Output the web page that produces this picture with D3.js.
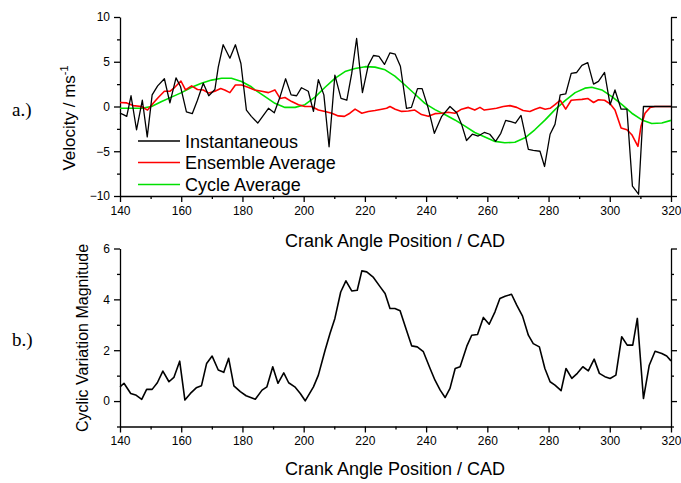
<!DOCTYPE html>
<html><head><meta charset="utf-8">
<script src="https://cdn.jsdelivr.net/npm/d3@7/dist/d3.min.js"></script>
<style>body{margin:0;background:#fff}svg{display:block}</style>
</head><body><svg id="c" width="681" height="483"></svg>
<script>
// ---------- DATA ----------
const instAngle = [140,141.1,142.2,143.6,145.4,147.3,148.9,150.5,152.3,154.5,156.3,158.3,159.8,161.7,163.6,165.3,167.2,169,171,172.1,173.7,175.9,177.7,179.5,181.3,182.9,185,188.5,190.4,192.3,194.1,195.9,197.7,199.3,201.5,203.2,204.8,206.6,208.3,210.2,212.2,214.1,215.7,217.3,219.2,221.1,222.8,224.6,226.4,228.2,229.9,231.6,233.6,235.2,237.2,238.7,240.7,242.7,245.1,247.8,250,251.6,253.2,255.1,257,259,260.8,262.7,264.4,266,267.7,269.2,271,273.4,275,277.2,278.7,280.5,282.1,283.8,285.6,287.4,289.2,290.9,292.8,294.7,296.3,298.3,300.1,301.7,303.7,305.6,307.4,309.4,311,320];
const instVel = [-0.75,-0.9,-1.1,1.2,-2.6,0.7,-3.4,1.3,2.3,3.1,0.4,3.2,2.2,-0.6,-0.8,0.7,2.6,1.2,1.9,4.4,6.9,5.4,6.9,4.8,-0.4,-1.1,-1.85,-0.2,-0.7,1.1,3.1,1.3,1.2,2.1,1.7,-0.55,3.0,1.3,-4.5,3.5,0.9,0.7,3.7,7.6,1.55,4.6,5.7,5.6,4.7,6.0,5.85,4.5,-0.2,-0.1,2.0,2.0,-0.2,-3.0,-1.1,0,-0.7,-2.0,-3.8,-3.1,-3.3,-2.9,-3.1,-3.9,-3.0,-1.55,-1.7,-1.85,-1.0,-4.8,-4.9,-5.0,-6.7,-3.1,-2.0,1.3,1.4,3.7,3.8,4.6,4.9,2.5,2.8,3.8,0.2,1.85,-0.3,-0.3,-8.9,-9.8,0,0];

const ensAngle = [140,142.2,144.3,147,149,150.9,152.5,154.5,156.3,157.9,159.9,161.4,163.4,165.3,167.2,169,171,172.9,174.2,175.9,177.7,179.7,181.8,184,186.3,188.5,190.6,192.3,193.9,196.1,198.3,200.4,202.6,204.8,207,209.2,211.3,213.3,215.1,216.8,219,221.1,223.3,225.5,227.1,228.2,229.9,232,234.2,236.3,238.5,240.7,242.9,245.1,247.2,249.4,251.6,253.8,255.9,257.6,259,260.8,263,265.2,267.4,269.6,271.7,273.9,275.6,277.2,278.9,280.5,282.1,283.8,285.6,287.4,289.2,290.9,292.8,294.7,296.3,298.3,300.1,301.7,303.7,305.6,307.2,309.2,310.2,311.5,313.2,314.8,320];
const ensVel = [0.45,0.4,0.1,0,-0.4,0.4,1.0,1.7,1.7,2.15,2.85,1.85,2.3,1.9,1.85,1.5,1.7,2.0,1.85,1.55,2.4,2.4,2.15,1.85,1.7,1.55,1.85,0.9,1.0,0.55,0.2,0,0,-0.4,-0.55,-0.75,-1.05,-1.1,-0.75,-0.3,-0.75,-0.55,-0.45,-0.3,-0.2,0,-0.3,-0.55,-0.5,-0.4,-0.9,-1.1,-0.8,-0.75,-0.65,-0.75,-0.3,-0.1,-0.4,-0.1,-0.4,-0.3,-0.2,0,0.1,-0.1,-0.45,-0.55,-0.3,-0.1,-0.3,-0.2,0.2,0.7,-0.3,0.7,0.75,0.8,0.9,0.45,0.75,0.7,0.3,-0.4,-2.4,-2.6,-3.15,-4.45,-2.2,-0.75,-0.1,0,0];

const cycAngle = [140,143.8,147,150.3,153.6,156.8,160.1,163.4,166.6,169.9,173.2,176.4,179.7,182.9,184.1,187.4,190.6,193.9,197.2,200.4,203.7,207,210.2,213.5,216.8,220.1,223.3,226.6,229.8,233.1,236.3,239.6,242.9,246.1,249.4,252.7,255.9,259.2,262.5,265.7,269,272.3,275.5,278.9,282.1,285.4,288.7,291.9,294.1,297.4,300.7,304,307.2,310.5,313.7,317,320];
const cycVel = [-0.2,-0.2,-0.2,0,0.55,1.05,1.55,2.15,2.6,2.95,3.15,3.15,2.8,2.2,1.85,1.1,0.35,-0.1,-0.1,0.2,1.05,2.15,3.15,3.9,4.25,4.45,4.4,4.1,3.4,2.4,1.4,0.35,-0.35,-0.9,-1.5,-2.2,-2.9,-3.4,-3.9,-4.05,-4.0,-3.5,-2.6,-1.5,-0.35,0.65,1.55,2.05,2.15,1.85,1.1,0.2,-0.75,-1.5,-1.9,-1.85,-1.55];

const cvAngle = [140,141.3,143.5,145.1,147.1,148.7,150.5,152.2,154,156,157.6,159.5,161.2,163,164.9,166.6,168.3,170.1,172.1,173.9,175.5,177.2,179.3,181.2,184.2,186.4,188,189.9,191.6,193.5,195.1,197.1,198.9,200.5,203.2,204.8,207,208.6,210.2,212.1,213.8,215.7,217.5,219,220.6,222.8,225,226.6,228.2,229.8,231.5,233.4,235.3,237.1,239.1,241.3,242.9,244.6,246.2,247.8,249.5,251.1,253.3,254.9,256.8,258.7,260.6,262.5,264.1,265.8,267.9,269.6,271.5,273.4,275,277,278.8,280.5,282.1,284.1,285.7,287.6,289.4,291.2,293,294.9,296.6,298.4,300.1,302,303.9,305.7,307.5,309,311,312.9,314.8,317,318.6,320];
const cvMag = [0.56,0.7,0.3,0.24,0.07,0.46,0.46,0.72,1.18,0.76,0.93,1.57,0.04,0.3,0.52,0.6,1.48,1.77,1.22,1.13,1.68,0.6,0.37,0.21,0.07,0.43,0.56,1.35,0.7,1.11,0.72,0.56,0.3,0.01,0.56,1.02,2.0,2.66,3.25,4.29,4.73,4.33,4.36,5.12,5.08,4.86,4.49,4.23,3.64,3.64,3.55,2.85,2.17,2.13,1.94,1.28,0.82,0.43,0.14,0.5,1.28,1.35,2.16,2.59,2.62,3.29,3.02,3.51,4.03,4.12,4.2,3.77,3.34,2.59,2.26,2.13,1.28,0.76,0.63,0.41,1.28,0.89,1.09,1.35,1.19,1.65,1.09,0.96,0.89,1.02,2.53,2.2,2.2,3.25,0.1,1.41,1.96,1.87,1.77,1.58];

const angleTicks = [140,160,180,200,220,240,260,280,300,320];
const angleMinor = [150,170,190,210,230,250,270,290,310];
const velTicks = [-10,-5,0,5,10];
const velMinor = [-7.5,-2.5,2.5,7.5];
const magTicks = [0,2,4,6];
const magMinor = [-1,1,3,5];

const seriesNames = ["Instantaneous","Ensemble Average","Cycle Average"];
const seriesColors = ["#000000","#ff0000","#00e000"];

// ---------- DRAW ----------
const svg = d3.select("#c");
const FONT = "'Liberation Sans', Arial, Helvetica, sans-serif";
const x = d3.scaleLinear().domain([140,320]).range([120,671]);
const yTop = d3.scaleLinear().domain([-10,10]).range([196,17]);
const yBot = d3.scaleLinear().domain([-1,6]).range([426.5,248.5]);

function styleAxis(g){
  g.attr("font-family", FONT).attr("font-size", 12);
  g.selectAll("path,line").attr("stroke","#000").attr("stroke-width",1.3);
  g.selectAll("text").attr("fill","#000");
}
function drawAxes(y, yTicks, yMinor, axisY){
  const gb = svg.append("g").attr("transform",`translate(0,${axisY})`)
    .call(d3.axisBottom(x).tickValues(angleTicks).tickSize(6).tickSizeOuter(0).tickPadding(4).tickFormat(d3.format("d")));
  styleAxis(gb);
  const gbm = svg.append("g").attr("transform",`translate(0,${axisY})`)
    .call(d3.axisBottom(x).tickValues(angleMinor).tickSize(3).tickFormat(""));
  gbm.select(".domain").remove(); styleAxis(gbm);

  const gl = svg.append("g").attr("transform",`translate(${x(140)},0)`)
    .call(d3.axisLeft(y).tickValues(yTicks).tickSize(6).tickSizeOuter(0).tickPadding(4).tickFormat(d3.format("d")));
  styleAxis(gl);
  const glm = svg.append("g").attr("transform",`translate(${x(140)},0)`)
    .call(d3.axisLeft(y).tickValues(yMinor).tickSize(3).tickFormat(""));
  glm.select(".domain").remove(); styleAxis(glm);

  const gr = svg.append("g").attr("transform",`translate(${x(320)},0)`)
    .call(d3.axisRight(y).tickValues(yTicks).tickSize(6).tickSizeOuter(0).tickFormat(""));
  styleAxis(gr);
  const grm = svg.append("g").attr("transform",`translate(${x(320)},0)`)
    .call(d3.axisRight(y).tickValues(yMinor).tickSize(3).tickFormat(""));
  grm.select(".domain").remove(); styleAxis(grm);
}

drawAxes(yTop, velTicks, velMinor, 196);
drawAxes(yBot, magTicks, magMinor, 426.5);

function drawLine(xs, ys, y, color, w){
  const pts = xs.map((a,i)=>[a, ys[i]]);
  svg.append("path").datum(pts)
    .attr("fill","none").attr("stroke",color).attr("stroke-width",w)
    .attr("stroke-linejoin","round")
    .attr("d", d3.line().x(d=>x(d[0])).y(d=>y(d[1])));
}
drawLine(cycAngle, cycVel, yTop, seriesColors[2], 1.6);
drawLine(ensAngle, ensVel, yTop, seriesColors[1], 1.6);
drawLine(instAngle, instVel, yTop, seriesColors[0], 1.3);
drawLine(cvAngle, cvMag, yBot, "#000", 1.6);

// legend
const legY = [141, 162.5, 184.5];
seriesNames.forEach((n,i)=>{
  svg.append("line").attr("x1",138).attr("x2",180).attr("y1",legY[i]).attr("y2",legY[i])
    .attr("stroke",seriesColors[i]).attr("stroke-width",1.6);
  svg.append("text").attr("x",185).attr("y",legY[i]+6.5).text(n)
    .attr("font-family",FONT).attr("font-size",18).attr("fill","#000");
});

// axis titles
svg.append("text").attr("x",395).attr("y",247).attr("text-anchor","middle")
  .attr("font-family",FONT).attr("font-size",18).text("Crank Angle Position / CAD");
svg.append("text").attr("x",395).attr("y",475).attr("text-anchor","middle")
  .attr("font-family",FONT).attr("font-size",18).text("Crank Angle Position / CAD");
const vt = svg.append("text").attr("transform","translate(75,118) rotate(-90)").attr("text-anchor","middle")
  .attr("font-family",FONT).attr("font-size",17);
vt.append("tspan").text("Velocity / ms");
vt.append("tspan").attr("dy",-7).attr("font-size",11).text("-1");
svg.append("text").attr("transform","translate(88,338) rotate(-90)").attr("text-anchor","middle")
  .attr("font-family",FONT).attr("font-size",16).text("Cyclic Variation Magnitude");

// panel labels
svg.append("text").attr("x",12).attr("y",116).attr("font-family","'Liberation Serif', 'Times New Roman', serif")
  .attr("font-size",19).text("a.)");
svg.append("text").attr("x",12).attr("y",346).attr("font-family","'Liberation Serif', 'Times New Roman', serif")
  .attr("font-size",19).text("b.)");
</script>
</body></html>
